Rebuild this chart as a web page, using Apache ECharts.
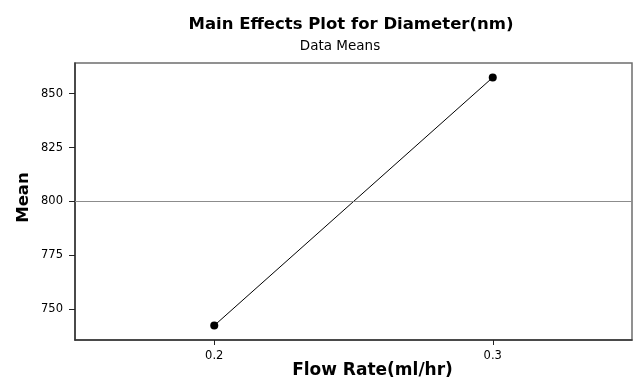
<!DOCTYPE html>
<html>
<head>
<meta charset="utf-8">
<script src="https://cdn.jsdelivr.net/npm/echarts@6/dist/echarts.min.js"></script>
<style>
  html, body { margin: 0; padding: 0; background: #fff; }
  #chart { width: 637px; height: 380px; }
</style>
</head>
<body>
<div id="chart"></div>
<script>
// Factor levels and the mean diameter at each level
const flowRates = [0.2, 0.3];
const meanDiameter = [742.5, 857.5];
const grandMean = 800;
const yTicks = [750, 775, 800, 825, 850];
const xTicks = [0.2, 0.3];

const FONT = 'DejaVu Sans';
const chart = echarts.init(document.getElementById('chart'), null, { renderer: 'canvas' });

chart.setOption({
  backgroundColor: '#ffffff',
  animation: false,
  textStyle: { fontFamily: FONT },
  title: [
    {
      text: 'Main Effects Plot for Diameter(nm)',
      left: 346, top: 11, textAlign: 'center',
      textStyle: { fontFamily: FONT, fontWeight: 'bold', fontSize: 16.5, color: '#000' }
    },
    {
      text: 'Data Means',
      left: 335, top: 34, textAlign: 'center',
      textStyle: { fontFamily: FONT, fontWeight: 'normal', fontSize: 13.5, color: '#000' }
    }
  ],
  grid: {
    left: 75, right: 5, top: 63, bottom: 40,
    outerBoundsMode: 'none',
    containLabel: false,
    show: true, borderColor: '#6e6e6e', borderWidth: 1.5, backgroundColor: '#fff'
  },
  xAxis: {
    type: 'value',
    min: 0.15, max: 0.35,
    name: 'Flow Rate(ml/hr)',
    nameLocation: 'middle',
    nameMoveOverlap: false,
    nameGap: 22,
    nameTextStyle: { fontFamily: FONT, fontWeight: 'bold', fontSize: 17, color: '#000', padding: [0, 0, 0, 38] },
    axisLine: { show: true, onZero: false, lineStyle: { color: '#333', width: 1.5 } },
    axisTick: { show: true, length: 5, customValues: xTicks, lineStyle: { color: '#222', width: 1 } },
    axisLabel: { customValues: xTicks, margin: 10, fontSize: 11.5, color: '#000', fontFamily: FONT },
    splitLine: { show: false }
  },
  yAxis: {
    type: 'value',
    min: 735.8, max: 864.2,
    name: 'Mean',
    nameLocation: 'middle',
    nameMoveOverlap: false,
    nameGap: 43,
    nameRotate: 90,
    nameTextStyle: { fontFamily: FONT, fontWeight: 'bold', fontSize: 16.5, color: '#000', padding: [0, 0, 0, 8] },
    axisLine: { show: true, onZero: false, lineStyle: { color: '#333', width: 1.5 } },
    axisTick: { show: true, length: 6, customValues: yTicks, lineStyle: { color: '#222', width: 1 } },
    axisLabel: { customValues: yTicks, margin: 12, fontSize: 11.5, color: '#000', fontFamily: FONT },
    splitLine: { show: false }
  },
  series: [
    {
      type: 'line',
      data: flowRates.map((x, i) => [x, meanDiameter[i]]),
      symbol: 'circle',
      symbolSize: 8,
      lineStyle: { color: '#000', width: 1 },
      itemStyle: { color: '#000' },
      markLine: {
        silent: true,
        symbol: 'none',
        label: { show: false },
        lineStyle: { color: '#8c8c8c', type: 'solid', width: 1 },
        data: [{ yAxis: grandMean }]
      }
    }
  ]
});
</script>
</body>
</html>
